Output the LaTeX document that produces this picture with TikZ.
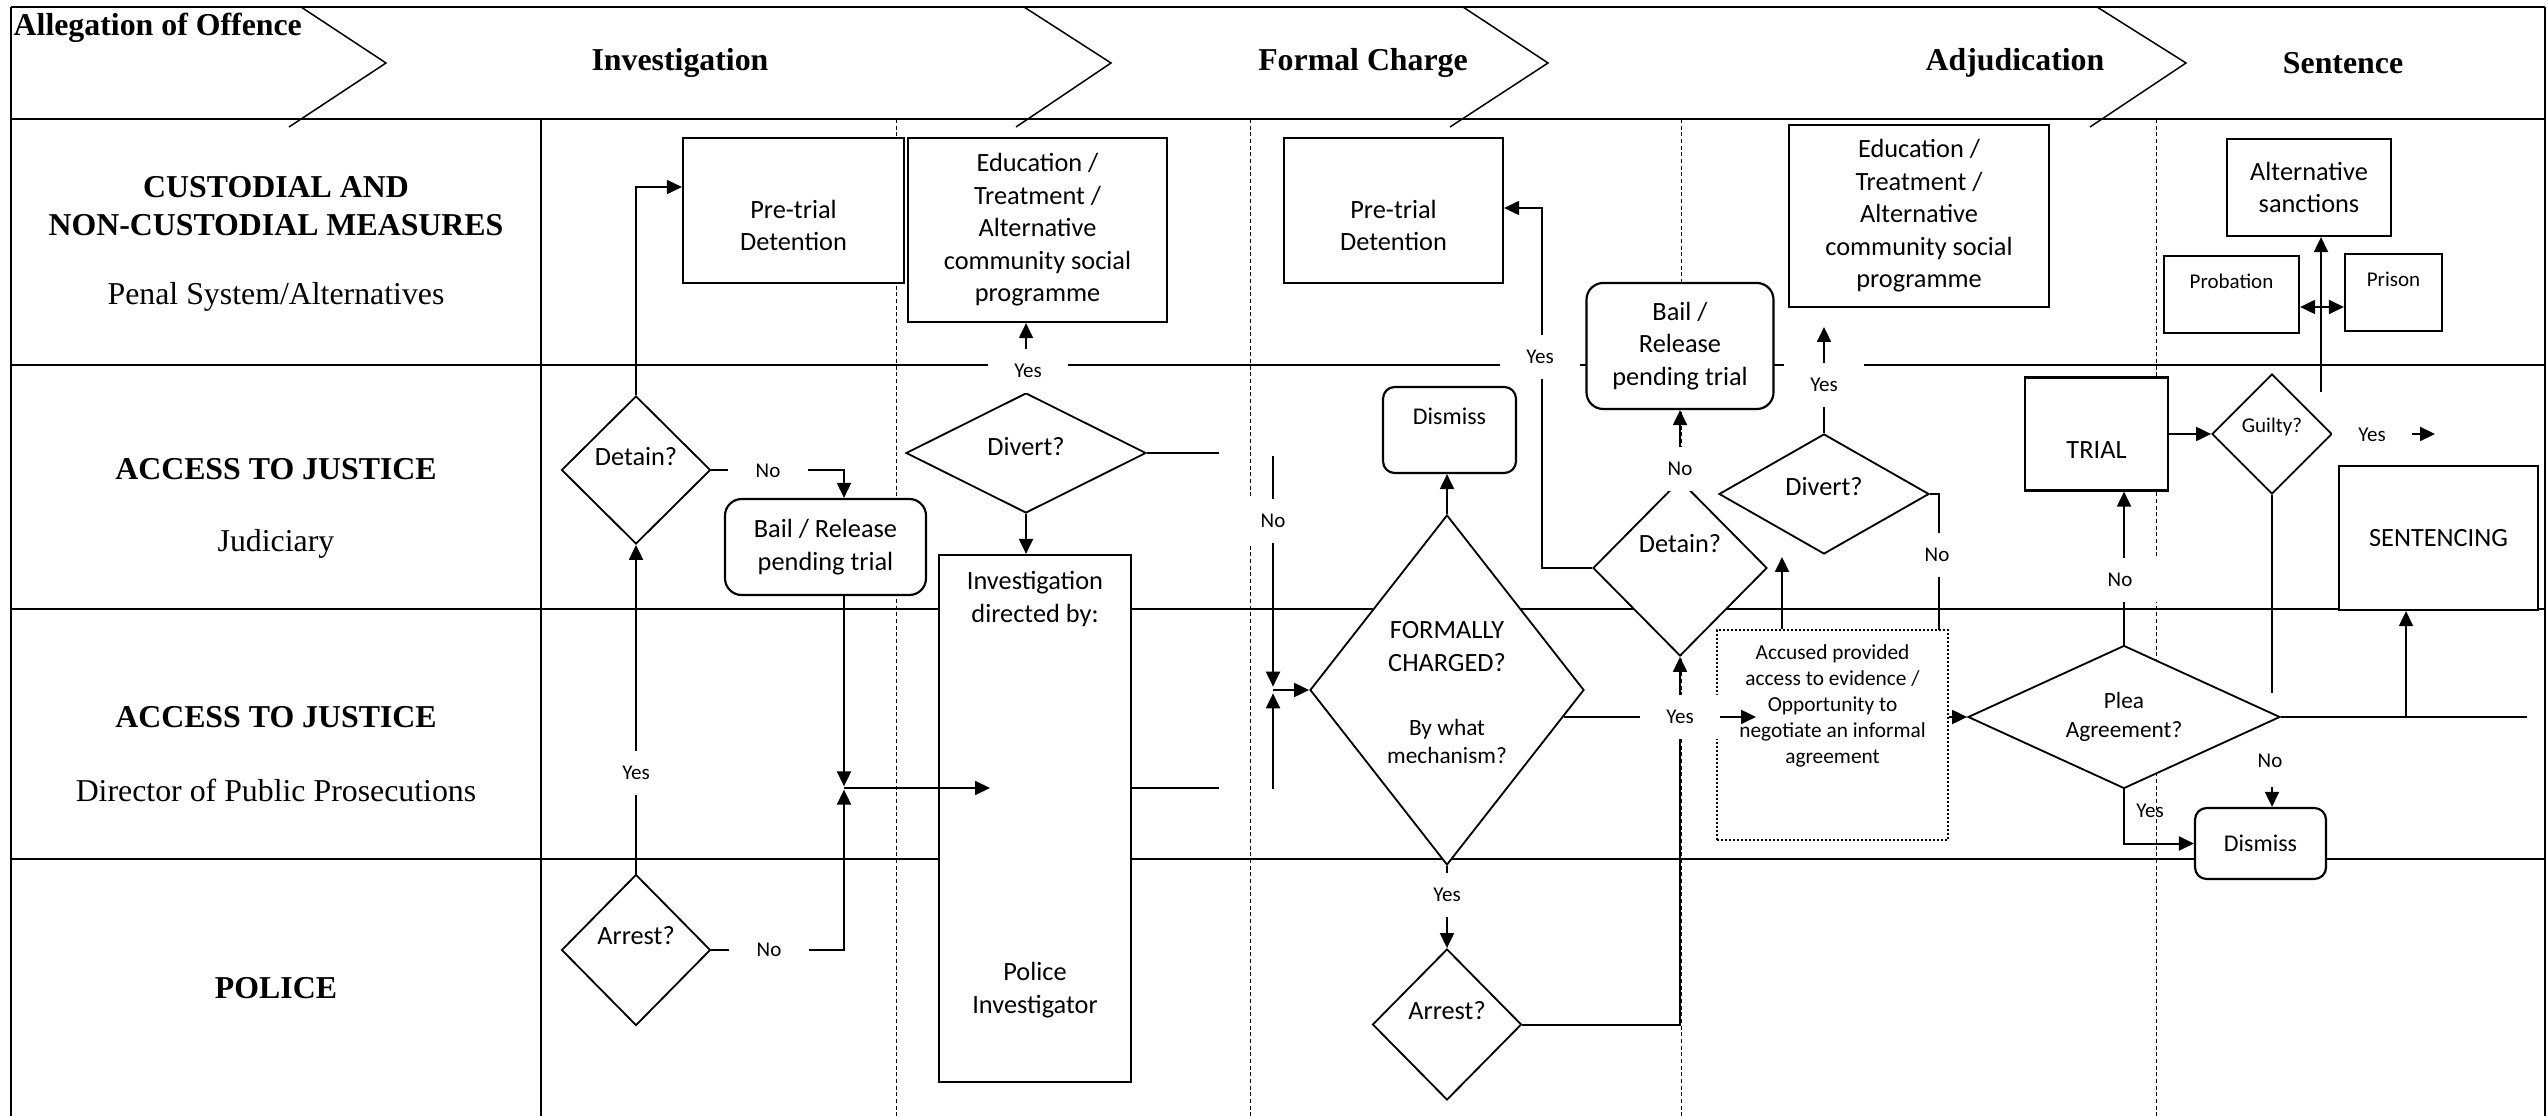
\documentclass[tikz,border=0pt]{standalone}
\usepackage{fontspec}
\setmainfont{Liberation Serif}
\newfontfamily\calfont{Carlito}
\usetikzlibrary{shapes.geometric,arrows.meta}
\newcommand\fstd{\calfont\fontsize{7.9pt}{9.75pt}\selectfont}
\newcommand\fsml{\calfont\fontsize{6.3pt}{7.8pt}\selectfont}
\newcommand\fdis{\calfont\fontsize{7.2pt}{8.6pt}\selectfont}
\newcommand\fmid{\calfont\fontsize{7.0pt}{8.6pt}\selectfont}
\newcommand\facc{\calfont\fontsize{6.4pt}{7.8pt}\selectfont}
\newcommand\fser{\fontsize{9.55pt}{11.4pt}\selectfont}
\begin{document}
\begin{tikzpicture}[x=0.3pt,y=-0.3pt,
  sz/.style 2 args={minimum width=#1*0.3pt,minimum height=#2*0.3pt},
  txt/.style={font=\fstd,align=center,inner sep=0pt,draw=none,fill=none,solid},
  box/.style={draw,line width=0.65pt,fill=white,rectangle,inner sep=0pt,font=\fstd,align=center},
  rbox/.style={box,rounded corners=5pt},
  dbox/.style={box,line width=0.6pt,dash pattern=on 0.6pt off 0.6pt},
  dia/.style={diamond,draw,line width=0.55pt,fill=white,inner sep=0pt,font=\fstd,align=center},
  conn/.style={line width=0.6pt},
  arr/.style={conn,-{Triangle[length=4.5pt,width=4.2pt]}},
  dblarr/.style={conn,{Triangle[length=4.5pt,width=4.2pt]}-{Triangle[length=4.5pt,width=4.2pt]}},
  lbl/.style={fill=white,inner sep=0pt,minimum width=24pt,minimum height=13pt,font=\fsml},
  lblnf/.style={inner sep=0pt,font=\fsml},
  gridline/.style={line width=0.8pt},
  laneline/.style={line width=0.6pt},
  phase/.style={line width=0.3pt,dash pattern=on 1.2pt off 0.8pt},
  chev/.style={line width=0.45pt},
  hdr/.style={font=\fser\bfseries,inner sep=0pt},
  lane/.style={font=\fser,inner sep=0pt,align=center},
]
\useasboundingbox (0,0) rectangle (2548,1116);

% ---------- frame and swimlanes ----------
\draw[gridline] (11,7) -- (2545,7);
\draw[gridline] (11,7) -- (11,1116);
\draw[gridline] (2545,7) -- (2545,1116);
\draw[gridline] (11,119) -- (2545,119);
\draw[gridline] (11,365) -- (2545,365);
\draw[gridline] (11,609) -- (2545,609);
\draw[gridline] (11,859) -- (2545,859);
\draw[laneline] (541,119) -- (541,1116);
\foreach \x in {896,1250,1681,2156} \draw[phase] (\x,119) -- (\x,1116);

% ---------- header chevrons ----------
\draw[chev] (301,7) -- (386,63) -- (289,127);
\draw[chev] (1024,7) -- (1111,63) -- (1016,127);
\draw[chev] (1463,7) -- (1548,63) -- (1450,127);
\draw[chev] (2097,7) -- (2186,63) -- (2090,127);

\node[hdr,anchor=west] (hA) at (13,28) {Allegation of Offence};
\node[hdr] (hI) at (680,63) {Investigation};
\node[hdr] (hF) at (1363,63) {Formal Charge};
\node[hdr] (hJ) at (2015,63) {Adjudication};
\node[hdr] (hS) at (2343,63) {Sentence};

% ---------- lane titles ----------
\node[lane,font=\fser\bfseries] (l1a) at (276,206) {CUSTODIAL AND\\NON-CUSTODIAL MEASURES};
\node[lane] (l1b) at (276,297) {Penal System/Alternatives};
\node[lane,font=\fser\bfseries] (l2a) at (276,469) {ACCESS TO JUSTICE};
\node[lane] (l2b) at (276,544) {Judiciary};
\node[lane,font=\fser\bfseries] (l3a) at (276,717) {ACCESS TO JUSTICE};
\node[lane] (l3b) at (276,790) {Director of Public Prosecutions};
\node[lane,font=\fser\bfseries] (l4a) at (276,988) {POLICE};

% ---------- nodes: investigation ----------
\node[box,sz={221}{145},label={[txt,yshift=-4.5pt]center:{Pre-trial\\Detention}}] (PT1) at (793.5,210.5) {};
\node[box,sz={259}{184}] (ED1) at (1037.5,230) {Education /\\Treatment /\\Alternative\\community social\\programme};
\node[rbox,sz={201}{96}] (BL1) at (825.5,547) {Bail / Release\\pending trial};
\node[box,sz={192}{527},label={[txt,yshift=65.8pt]center:{Investigation\\directed by:}},label={[txt,yshift=-51.5pt]center:{Police\\Investigator}}] (INV) at (1035,818.5) {};
\node[dia,sz={149}{148},label={[txt,yshift=3.9pt]center:{Detain?}}] (DT1) at (636,470) {};
\node[dia,sz={240}{120},label={[txt,yshift=1.8pt]center:{Divert?}}] (DV1) at (1026,453) {};
\node[dia,sz={149}{151},label={[txt,yshift=4.2pt]center:{Arrest?}}] (AR1) at (636,950) {};

% ---------- nodes: formal charge ----------
\node[box,sz={219}{145},label={[txt,yshift=-4.5pt]center:{Pre-trial\\Detention}}] (PT2) at (1393.5,210.5) {};
\node[rbox,rounded corners=3.5pt,sz={133}{86},label={[txt,font=\fdis,yshift=4.2pt]center:{Dismiss}}] (DS1) at (1449.5,430) {};
\node[dia,sz={274}{350},label={[txt,yshift=13pt]center:{FORMALLY\\CHARGED?}},label={[txt,font=\fmid,yshift=-15.4pt]center:{By what\\mechanism?}}] (FC) at (1447,690) {};
\node[dia,sz={149}{151},label={[txt,yshift=4.2pt]center:{Arrest?}}] (AR2) at (1447,1024.5) {};
\node[dia,sz={174}{176},label={[txt,yshift=7.2pt]center:{Detain?}}] (DT2) at (1680,568) {};
\node[rbox,sz={187}{126}] (BL2) at (1680,346) {Bail /\\Release\\pending trial};

% ---------- nodes: adjudication ----------
\node[box,sz={260}{182}] (ED2) at (1919,216) {Education /\\Treatment /\\Alternative\\community social\\programme};
\node[dia,sz={210}{120},label={[txt,yshift=2.1pt]center:{Divert?}}] (DV2) at (1824,494) {};
\node[dbox,sz={231}{210},label={[txt,font=\facc,yshift=8.85pt]center:{Accused provided\\access to evidence /\\Opportunity to\\negotiate an informal\\agreement}}] (ACC) at (1832.5,735) {};
\node[dia,sz={312}{143},label={[txt,font=\fmid]center:{Plea\\Agreement?}}] (PL) at (2124,717) {};
\node[box,sz={143}{113},label={[txt,yshift=-4.8pt]center:{TRIAL}}] (TR) at (2096.5,434) {};

% ---------- nodes: sentence ----------
\node[dia,sz={120}{120},label={[txt,font=\fsml,yshift=2.1pt]center:{Guilty?}}] (GU) at (2272,434) {};
\node[box,sz={164}{97}] (ALT) at (2309,187.5) {Alternative\\sanctions};
\node[box,sz={135}{77},label={[txt,font=\fsml,yshift=4pt]center:{Probation}}] (PRB) at (2231.5,294.5) {};
\node[box,sz={97}{77},label={[txt,font=\fsml,yshift=4pt]center:{Prison}}] (PRS) at (2393.5,292.5) {};
\node[box,sz={199}{144}] (SEN) at (2438.5,538) {SENTENCING};
\node[rbox,rounded corners=3.5pt,sz={131}{71},font=\fdis] (DS2) at (2260.5,843.5) {Dismiss};

% ---------- helper coordinates ----------
\coordinate (p1) at (636,187);
\coordinate (j1) at (844,788);
\coordinate (invIn) at (990,788);
\coordinate (d1e) at (1219,453);
\coordinate (ie) at (1219,788);
\coordinate (nTop) at (1273,456);
\coordinate (nBot) at (1273,789);
\coordinate (j2) at (1273,690);
\coordinate (dY) at (1542,208);
\coordinate (accIn) at (1756,717);
\coordinate (e2in) at (1824,327);
\coordinate (acR) at (1939,630);
\coordinate (dv2in) at (1782,557);
\coordinate (gY) at (2435,434);
\coordinate (gUp) at (2321,392);
\coordinate (dbl) at (2321,307);
\coordinate (gN1) at (2272,693);
\coordinate (gN2) at (2272,787);
\coordinate (pE) at (2527,717);
\coordinate (sB) at (2406,717);

% ---------- connectors ----------
\draw[arr] (DT1.north) |- (PT1.west |- p1);
\draw[arr] (DT1.east) -| (BL1.north -| j1);
\draw[arr,shorten >=0.5pt] (BL1.south -| j1) -- (j1);
\draw[arr,shorten >=0.5pt] (AR1.east) -| (j1);
\draw[arr] (j1) -- (invIn);
\draw[arr] (AR1.north) -- (DT1.south);
\draw[arr] (DV1.north) -- (DV1.north |- ED1.south);
\draw[arr] (DV1.south) -- (DV1.south |- INV.north);
\draw[conn] (DV1.east) -- (d1e);
\draw[conn] (INV.east |- j1) -- (ie);

\draw[arr,shorten >=1pt] (nTop) -- (j2);
\draw[arr,shorten >=1pt] (nBot) -- (j2);
\draw[arr] (j2) -- (FC.west);
\draw[arr] (FC.north) -- (FC.north |- DS1.south);
\draw[arr] (FC.south) -- (AR2.north);
\draw[arr] (AR2.east) -| (DT2.south);
\draw[arr] (FC.-13) -- (FC.-13 -| accIn);
\draw[arr] (DT2.west) -| (dY) -- (PT2.east |- dY);
\draw[arr] (DT2.north) -- (DT2.north |- BL2.south);

\draw[arr] (DV2.north) -- (e2in);
\draw[conn] (DV2.east) -| (acR);
\draw[arr] (ACC.north -| dv2in) -- (dv2in);
\draw[arr] (ACC.east |- PL.west) -- (PL.west);
\draw[arr] (PL.north) -- (PL.north |- TR.south);
\draw[arr] (TR.east) -- (GU.west);
\draw[arr] (GU.east) -- (gY);
\draw[arr] (gUp) -- (gUp |- ALT.south);
\draw[dblarr] (PRB.east |- dbl) -- (PRS.west |- dbl);
\draw[conn] (GU.south) -- (gN1);
\draw[arr] (gN2) -- (gN2 |- DS2.north);
\draw[arr] (PL.south) |- (DS2.west);
\draw[conn] (PL.east) -- (pE);
\draw[arr] (sB) -- (sB |- SEN.south);

% ---------- connector labels ----------
\node[lbl] (nDet1) at (768,471) {No};
\node[lbl] (yArr1) at (636,773) {Yes};
\node[lbl] (nArr1) at (769,950) {No};
\node[lbl] (yDiv1) at (1028,371) {Yes};
\node[lbl] (nDiv1) at (1273,521) {No};
\node[lbl] (yFC) at (1447,895) {Yes};
\node[lbl] (yDet2) at (1540,357) {Yes};
\node[lbl] (nDet2) at (1680,469) {No};
\node[lbl] (yFC2) at (1680,717) {Yes};
\node[lbl] (yDiv2) at (1824,385) {Yes};
\node[lbl] (nDiv2) at (1937,555) {No};
\node[lbl] (nPlea) at (2120,580) {No};
\node[lbl] (yGu) at (2372,435) {Yes};
\node[lblnf] (nGu) at (2270,761) {No};
\node[lblnf] (yPl) at (2150,811) {Yes};
\end{tikzpicture}
\end{document}
